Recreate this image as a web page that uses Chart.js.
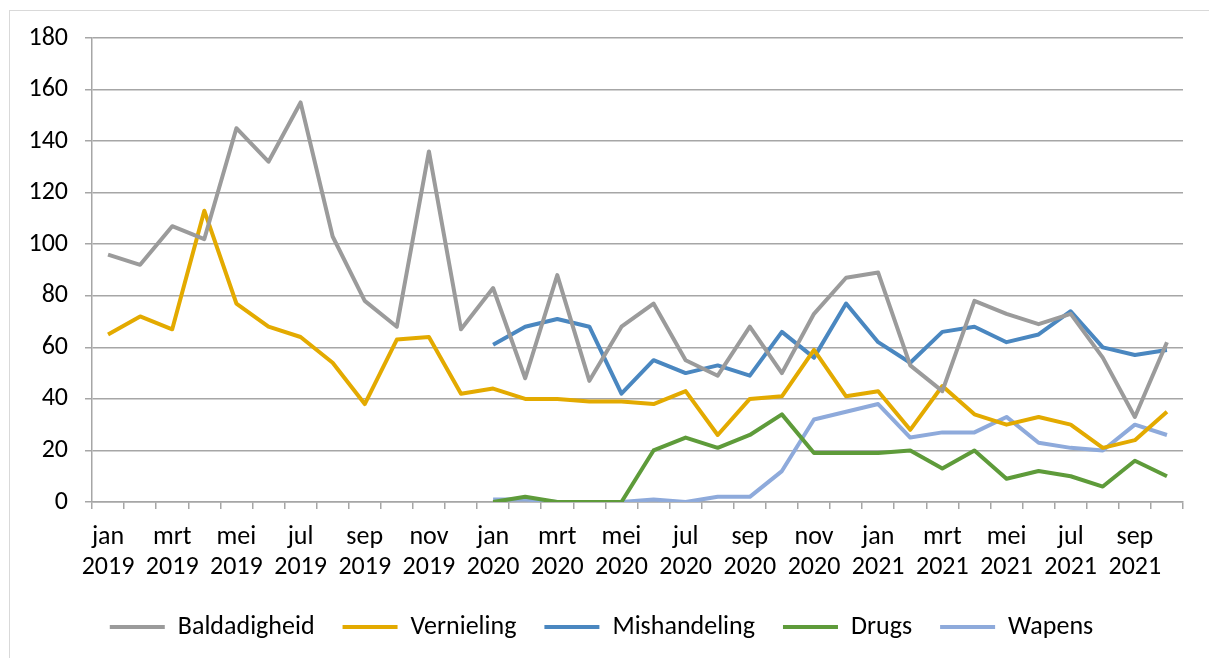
<!DOCTYPE html>
<html lang="nl">

<head>
    <meta charset="UTF-8">
    <title>Incidenten per maand</title>
    <script src="https://cdn.jsdelivr.net/npm/chart.js"></script>
    <style>
        body { margin: 0; background: #fff; }
        #wrap { position: relative; width: 1209px; height: 658px; overflow: hidden; }
        #frame { position: absolute; left: 9px; top: 10px; width: 1220px; height: 700px; border: 1px solid #d9d9d9; }
        #myChart { position: absolute; left: 0; top: 0; }
    </style>
</head>

<body>
    <div id="wrap">
        <div id="frame"></div>
        <canvas id="myChart" width="1209" height="658"></canvas>
    </div>

    <script>
        // maanden jan 2019 t/m okt 2021
        const monthNames = ['jan', 'feb', 'mrt', 'apr', 'mei', 'jun', 'jul', 'aug', 'sep', 'okt', 'nov', 'dec'];
        const years = [2019, 2020, 2021];
        const months = [];
        years.forEach(y => monthNames.forEach(m => months.push([m, String(y)])));
        months.length = 34;

        const yTicks = [0, 20, 40, 60, 80, 100, 120, 140, 160, 180];

        const baldadigheid = [96, 92, 107, 102, 145, 132, 155, 103, 78, 68, 136, 67,
            83, 48, 88, 47, 68, 77, 55, 49, 68, 50, 73, 87,
            89, 53, 43, 78, 73, 69, 73, 56, 33, 62];
        const vernieling = [65, 72, 67, 113, 77, 68, 64, 54, 38, 63, 64, 42,
            44, 40, 40, 39, 39, 38, 43, 26, 40, 41, 59, 41,
            43, 28, 45, 34, 30, 33, 30, 21, 24, 35];
        const mishandeling = [null, null, null, null, null, null, null, null, null, null, null, null,
            61, 68, 71, 68, 42, 55, 50, 53, 49, 66, 56, 77,
            62, 54, 66, 68, 62, 65, 74, 60, 57, 59];
        const drugs = [null, null, null, null, null, null, null, null, null, null, null, null,
            0, 2, 0, 0, 0, 20, 25, 21, 26, 34, 19, 19,
            19, 20, 13, 20, 9, 12, 10, 6, 16, 10];
        const wapens = [null, null, null, null, null, null, null, null, null, null, null, null,
            1, 1, 0, 0, 0, 1, 0, 2, 2, 12, 32, 35,
            38, 25, 27, 27, 33, 23, 21, 20, 30, 26];

        const series = [
            { label: 'Baldadigheid', data: baldadigheid, color: '#9b9b9b' },
            { label: 'Vernieling', data: vernieling, color: '#e3aa00' },
            { label: 'Mishandeling', data: mishandeling, color: '#4a87c0' },
            { label: 'Drugs', data: drugs, color: '#5e9b3a' },
            { label: 'Wapens', data: wapens, color: '#8eaadb' }
        ];

        const font = { family: 'Carlito, "Liberation Sans", Arial, sans-serif', size: 26, lineHeight: 1.15 };
        const gridColor = '#a6a6a6';

        Chart.defaults.font = font;
        Chart.defaults.color = '#000';

        const ctx = document.getElementById('myChart').getContext('2d');
        const myChart = new Chart(ctx, {
            type: 'line',
            data: {
                labels: months,
                datasets: series.map(s => ({
                    label: s.label,
                    data: s.data,
                    borderColor: s.color,
                    backgroundColor: s.color,
                    borderWidth: 4,
                    borderJoinStyle: 'round',
                    pointRadius: 0,
                    tension: 0
                }))
            },
            options: {
                responsive: false,
                devicePixelRatio: 1,
                animation: false,
                layout: { padding: { left: 20, right: 26, top: 38, bottom: 8 } },
                plugins: {
                    tooltip: { enabled: false },
                    legend: {
                        position: 'bottom',
                        labels: {
                            usePointStyle: true,
                            pointStyle: 'line',
                            pointStyleWidth: 55,
                            padding: 28,
                            font: font,
                            color: '#000'
                        }
                    }
                },
                scales: {
                    x: {
                        offset: true,
                        afterFit: function (scale) { scale.height = 84; },
                        grid: {
                            offset: true,
                            drawOnChartArea: false,
                            drawTicks: true,
                            tickLength: 7,
                            color: gridColor,
                            lineWidth: 1.5
                        },
                        border: { color: gridColor, width: 1.5 },
                        ticks: {
                            autoSkip: false,
                            maxRotation: 0,
                            padding: 14,
                            font: font,
                            callback: function (value, index) {
                                return index % 2 === 0 ? months[index] : '';
                            }
                        }
                    },
                    y: {
                        min: 0,
                        max: 180,
                        afterFit: function (scale) { scale.width = 72; },
                        afterBuildTicks: function (scale) {
                            scale.ticks = yTicks.map(v => ({ value: v }));
                        },
                        grid: {
                            color: gridColor,
                            lineWidth: 1.5,
                            tickLength: 7
                        },
                        border: { color: gridColor, width: 1.5 },
                        ticks: { padding: 17, font: font }
                    }
                }
            }
        });
    </script>
</body>

</html>
